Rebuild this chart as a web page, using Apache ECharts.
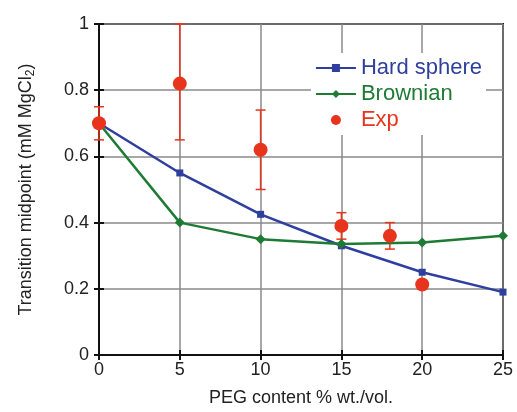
<!DOCTYPE html>
<html>
<head>
<meta charset="utf-8">
<script src="https://cdn.jsdelivr.net/npm/echarts@6/dist/echarts.min.js"></script>
<style>
  html, body { margin: 0; padding: 0; background: #fff; }
  #chart { width: 517px; height: 412px; }
</style>
</head>
<body>
<div id="chart"></div>
<script>
const chart = echarts.init(document.getElementById("chart"));

// data
const peg = [0, 5, 10, 15, 20, 25];
const hardSphere = [0.70, 0.55, 0.425, 0.33, 0.25, 0.19];
const brownian = [0.70, 0.40, 0.35, 0.335, 0.34, 0.36];

const expX = [0, 5, 10, 15, 18, 20];
const expY = [0.70, 0.82, 0.62, 0.39, 0.36, 0.213];
const expLow = [0.65, 0.65, 0.50, 0.35, 0.32, 0.20];
const expHigh = [0.75, 1.00, 0.74, 0.43, 0.40, 0.225];

const BLUE = "#2f3f9e";
const GREEN = "#1e7b34";
const RED = "#e8341c";
const FONT = "Liberation Sans";

chart.setOption({
  animation: false,
  textStyle: { fontFamily: FONT },
  grid: { left: 99, right: 14, top: 24, bottom: 50, show: true, borderColor: "#111", borderWidth: 2 },
  legend: {
    orient: "vertical",
    right: 31,
    top: 53,
    backgroundColor: "#fff",
    padding: [4, 4, 4, 4],
    itemGap: 4,
    itemWidth: 40,
    itemHeight: 10,
    textStyle: { fontSize: 22, fontFamily: FONT },
    data: [
      { name: "Hard sphere", textStyle: { color: BLUE } },
      { name: "Brownian", textStyle: { color: GREEN } },
      { name: "Exp", textStyle: { color: RED } }
    ]
  },
  xAxis: [
    {
      type: "value", min: 0, max: 25, interval: 5,
      name: "PEG content % wt./vol.",
      nameLocation: "middle", nameGap: 34,
      nameTextStyle: { fontSize: 18, color: "#222" },
      axisLine: { lineStyle: { color: "#111", width: 2 } },
      axisTick: { inside: true, length: 5, lineStyle: { color: "#111", width: 2 } },
      axisLabel: { fontSize: 18, color: "#222", margin: 6 },
      splitLine: { lineStyle: { color: "#8a8a8a", width: 1.5 } }
    },
    {
      type: "value", min: 0, max: 25, interval: 5, position: "top",
      axisLine: { show: false },
      axisTick: { inside: true, length: 5, lineStyle: { color: "#111", width: 2 } },
      axisLabel: { show: false },
      splitLine: { show: false }
    }
  ],
  yAxis: [
    {
      type: "value", min: 0, max: 1, interval: 0.2,
      name: "{a|Transition midpoint (mM MgCl}{s|2}{a|)}",
      nameLocation: "middle", nameGap: 62,
      nameTextStyle: {
        rich: {
          a: { fontSize: 18, color: "#222", fontFamily: FONT },
          s: { fontSize: 12, color: "#222", fontFamily: FONT, padding: [10, 0, 0, 0] }
        }
      },
      axisLine: { lineStyle: { color: "#111", width: 2 } },
      axisTick: { inside: true, length: 5, lineStyle: { color: "#111", width: 2 } },
      axisLabel: { fontSize: 18, color: "#222", margin: 10 },
      splitLine: { lineStyle: { color: "#8a8a8a", width: 1.5 } }
    },
    {
      type: "value", min: 0, max: 1, interval: 0.2, position: "right",
      axisLine: { show: false },
      axisTick: { inside: true, length: 5, lineStyle: { color: "#111", width: 2 } },
      axisLabel: { show: false },
      splitLine: { show: false }
    }
  ],
  series: [
    {
      name: "Hard sphere",
      type: "line",
      data: peg.map((x, i) => [x, hardSphere[i]]),
      symbol: "rect", symbolSize: 7,
      lineStyle: { color: BLUE, width: 2.5 },
      itemStyle: { color: BLUE }
    },
    {
      name: "Brownian",
      type: "line",
      data: peg.map((x, i) => [x, brownian[i]]),
      symbol: "diamond", symbolSize: 10,
      lineStyle: { color: GREEN, width: 2.5 },
      itemStyle: { color: GREEN }
    },
    {
      name: "Exp error",
      type: "custom",
      data: expX.map((x, i) => [x, expLow[i], expHigh[i]]),
      renderItem: (params, api) => {
        const lo = api.coord([api.value(0), api.value(1)]);
        const hi = api.coord([api.value(0), api.value(2)]);
        const cap = 5;
        const st = { stroke: RED, lineWidth: 1.5 };
        return {
          type: "group",
          children: [
            { type: "line", shape: { x1: lo[0], y1: lo[1], x2: hi[0], y2: hi[1] }, style: st },
            { type: "line", shape: { x1: lo[0] - cap, y1: lo[1], x2: lo[0] + cap, y2: lo[1] }, style: st },
            { type: "line", shape: { x1: hi[0] - cap, y1: hi[1], x2: hi[0] + cap, y2: hi[1] }, style: st }
          ]
        };
      },
      z: 3
    },
    {
      name: "Exp",
      type: "scatter",
      data: expX.map((x, i) => [x, expY[i]]),
      symbol: "circle", symbolSize: 14,
      itemStyle: { color: RED, opacity: 1 },
      z: 4
    }
  ]
});
</script>
</body>
</html>
